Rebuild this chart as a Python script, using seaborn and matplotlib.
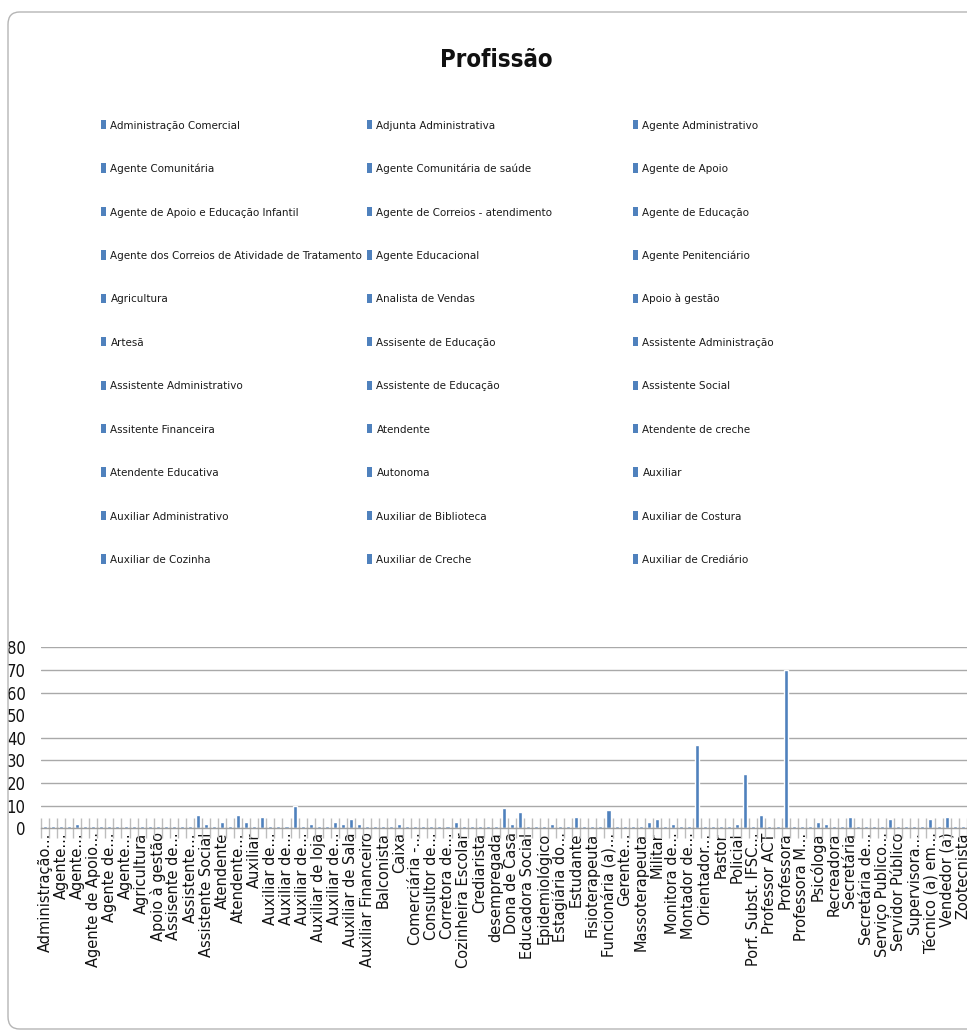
import os
import numpy as np
import matplotlib
matplotlib.use("Agg")
import matplotlib.pyplot as plt
from matplotlib import font_manager
from matplotlib.font_manager import FontProperties
from matplotlib.patches import Patch, FancyBboxPatch
import seaborn as sns

# ---- data -------------------------------------------------------------
categories = [
    "Administração Comercial", "Adjunta Administrativa", "Agente Administrativo",
    "Agente Comunitária", "Agente Comunitária de saúde", "Agente de Apoio",
    "Agente de Apoio e Educação Infantil", "Agente de Correios - atendimento",
    "Agente de Educação", "Agente dos Correios de Atividade de Tratamento",
    "Agente Educacional", "Agente Penitenciário", "Agricultura",
    "Analista de Vendas", "Apoio à gestão", "Artesã", "Assisente de Educação",
    "Assistente Administração", "Assistente Administrativo",
    "Assistente de Educação", "Assistente Social", "Assitente Financeira",
    "Atendente", "Atendente de creche", "Atendente Educativa", "Autonoma",
    "Auxiliar", "Auxiliar Administrativo", "Auxiliar de Biblioteca",
    "Auxiliar de Costura", "Auxiliar de Cozinha", "Auxiliar de Creche",
    "Auxiliar de Crediário", "Auxiliar de Ensino", "Auxiliar de loja",
    "Auxiliar de Manutenção", "Auxiliar de Produção",
    "Auxiliar de Recursos Humanos", "Auxiliar de Sala",
    "Auxiliar de Serviços Gerais", "Auxiliar Financeiro", "Auxiliar Pedagógica",
    "Balconista", "Bancária", "Caixa", "Comerciante", "Comerciária - vendas",
    "Confeiteira", "Consultor de Vendas", "Contadora", "Corretora de Imóveis",
    "Costureira", "Cozinheira Escolar", "Cozinheira Industrial", "Crediarista",
    "Cuidadora", "desempregada", "Do lar", "Dona de Casa", "Educadora",
    "Educadora Social", "Enfermeira", "Epidemiológico", "Estagiária",
    "Estagiária do Programa", "Esteticista", "Estudante", "Farmacêutica",
    "Fisioterapeuta", "Fonoaudióloga", "Funcionária (a) Pública", "Garçom",
    "Gerente Comercial", "Manicure", "Massoterapeuta", "Merendeira", "Militar",
    "Monitora", "Monitora de Creche", "Montador", "Montador de Móveis",
    "Não trabalha", "Orientador Educacional", "Orientadora", "Pastor",
    "Pedagoga", "Policial", "Policial Militar", "Porf. Subst. IFSC - Campus",
    "Professor", "Professor ACT", "Professor Efetivo", "Professora",
    "Professora ACT", "Professora Municipal", "Professora Substituta",
    "Psicóloga", "Psicopedagoga", "Recreadora", "Salgadeira", "Secretária",
    "Secretária Administrativa", "Secretária de Educação", "Servente",
    "Serviço Publico Municipal", "Serviços Gerais", "Servidor Público",
    "Servidora Pública", "Supervisora Escolar", "Técnica em Enfermagem",
    "Técnico (a) em Enfermagem", "Telefonista", "Vendedor (a)", "Vendedora",
    "Zootecnista",
]

counts = [
    1, 1, 1, 1, 2, 1, 1, 1, 1, 1, 1, 1, 1, 1, 1, 1, 1, 1, 1, 6,
    2, 1, 3, 1, 6, 3, 1, 5, 1, 1, 1, 10, 1, 2, 1, 1, 3, 2, 4, 2,
    1, 1, 1, 1, 2, 1, 1, 1, 1, 1, 1, 3, 1, 1, 1, 1, 1, 9, 2, 7,
    1, 1, 1, 2, 1, 1, 5, 1, 1, 1, 8, 1, 1, 1, 1, 3, 4, 1, 2, 1,
    1, 37, 1, 1, 1, 1, 2, 24, 1, 6, 1, 1, 70, 1, 1, 1, 3, 2, 1, 1,
    5, 1, 1, 1, 1, 4, 1, 1, 1, 1, 4, 1, 5, 1, 1,
]

# labels shown under every second bar (long names are cut short)
tick_labels = [
    "Administração...", "Agente...", "Agente...", "Agente de Apoio...",
    "Agente de...", "Agente...", "Agricultura", "Apoio à gestão",
    "Assisente de...", "Assistente...", "Assistente Social", "Atendente",
    "Atendente...", "Auxiliar", "Auxiliar de...", "Auxiliar de...",
    "Auxiliar de...", "Auxiliar de loja", "Auxiliar de...", "Auxiliar de Sala",
    "Auxiliar Financeiro", "Balconista", "Caixa", "Comerciária -...",
    "Consultor de...", "Corretora de...", "Cozinheira Escolar", "Crediarista",
    "desempregada", "Dona de Casa", "Educadora Social", "Epidemiológico",
    "Estagiária do...", "Estudante", "Fisioterapeuta", "Funcionária (a)...",
    "Gerente...", "Massoterapeuta", "Militar", "Monitora de...",
    "Montador de...", "Orientador...", "Pastor", "Policial",
    "Porf. Subst. IFSC...", "Professor ACT", "Professora", "Professora M...",
    "Psicóloga", "Recreadora", "Secretária", "Secretária de...",
    "Serviço Publico...", "Servidor Público", "Supervisora...",
    "Técnico (a) em...", "Vendedor (a)", "Zootecnista",
]

y_ticks = [0, 10, 20, 30, 40, 50, 60, 70, 80]
legend_count = 33  # legend lists the first categories only

assert len(categories) == len(counts) == len(set(categories))

# ---- fonts ----------------------------------------------------------------
sns.set_style("white")


def find_face(candidates):
    files = {os.path.basename(f.fname): f.fname for f in font_manager.fontManager.ttflist}
    for c in candidates:
        if c in files:
            return files[c]
    return None


narrow_file = find_face([
    "NotoSans-ExtraCondensed.ttf", "LiberationSansNarrow-Regular.ttf",
    "NotoSans-Condensed.ttf", "DejaVuSansCondensed.ttf",
    "NotoSans-SemiCondensed.ttf", "RobotoCondensed-Regular.ttf",
    "OpenSans_Condensed-Regular.ttf",
])
narrow_bold_file = find_face([
    "NotoSans-ExtraCondensedBold.ttf", "LiberationSansNarrow-Bold.ttf",
    "NotoSans-CondensedBold.ttf", "DejaVuSansCondensed-Bold.ttf",
    "NotoSans-SemiCondensedBold.ttf", "RobotoCondensed-Bold.ttf",
    "OpenSans_Condensed-Bold.ttf",
])


def face(size, bold=False):
    path = narrow_bold_file if bold else narrow_file
    if path:
        return FontProperties(fname=path, size=size)
    return FontProperties(family="Liberation Sans", size=size,
                          weight="bold" if bold else "normal")


plt.rcParams["font.family"] = ["Liberation Sans", "DejaVu Sans"]

BLUE = "#4F81BD"
GRID = "#A9A9A9"

W, H = 967, 1032
fig = plt.figure(figsize=(W / 100, H / 100), dpi=100)
renderer = fig.canvas.get_renderer()


def extent_px(s, props):
    t = fig.text(0, 0, s, fontproperties=props)
    bb = t.get_window_extent(renderer)
    t.remove()
    return bb.width, bb.height


def fit(s, target, bold=False):
    return 10.0 * target / extent_px(s, face(10.0, bold))[0]


legend_size = min(fit("Administração Comercial", 130),
                  fit("Agente dos Correios de Atividade de Tratamento", 252))
legend_px = legend_size * 100 / 72
row_h = extent_px("Administração Comercial", face(legend_size))[1]
row_pitch = 42.8
title_size = min(fit("Profissão", 112, bold=True), 26)

# chart-area frame
fig.patches.append(FancyBboxPatch(
    (8 / W, 1 - 1029 / H), (990 - 8) / W, (1029 - 12) / H,
    boxstyle="round,pad=0,rounding_size=0.012",
    transform=fig.transFigure, fill=False, edgecolor="#B5B5B5", lw=1.0))

# title
fig.text(496 / W, 1 - 60 / H, "Profissão", ha="center", va="center",
         fontproperties=face(title_size, bold=True), color="#111111")

# ---- bars ---------------------------------------------------------------
left, right, top, base = 41.0, 966.7, 647.3, 828.3
ax = fig.add_axes([left / W, 1 - base / H, (right - left) / W, (base - top) / H])

sns.barplot(x=categories, y=counts, order=categories, color=BLUE,
            saturation=1, width=0.5, errorbar=None, ax=ax)

ax.set_xlim(-0.5, len(categories) - 0.5)
ax.set_ylim(0, 80)
ax.set_yticks(y_ticks)
ax.set_yticklabels([str(v) for v in y_ticks], fontproperties=face(12),
                   color="#111111")
ax.set_xticks(range(0, len(categories), 2))
ax.set_xticklabels(tick_labels, rotation=90, fontsize=10.5,
                   family=["DejaVu Sans"], color="#111111")
ax.set_xticks(np.arange(-0.5, len(categories), 1), minor=True)
ax.tick_params(axis="x", which="both", bottom=True)
ax.tick_params(axis="x", which="major", length=0, pad=3)
ax.tick_params(axis="x", which="minor", direction="inout", length=14,
               width=1, color="#BDBDBD")
ax.tick_params(axis="y", left=False, length=0, pad=11)
ax.set_xlabel("")
ax.set_ylabel("")

ax.yaxis.grid(True, color=GRID, lw=1.0)
ax.set_axisbelow(True)
for t in ax.yaxis.get_major_ticks():
    if t.get_loc() == 50:
        t.gridline.set_visible(False)

for side in ("left", "right", "top"):
    ax.spines[side].set_visible(False)
ax.spines["bottom"].set_color("#A0A0A0")
ax.spines["bottom"].set_linewidth(1.0)

# ---- legend: three columns, filled row by row --------------------------
ncol = 3
col_x = [101, 367, 633]
first_row_center = 125
entries = categories[:legend_count]
for c in range(ncol):
    labels = entries[c::ncol]
    handles = [Patch(facecolor=BLUE, edgecolor="none") for _ in labels]
    leg = fig.legend(handles, labels, loc="upper left",
                     bbox_to_anchor=(col_x[c] / W,
                                     1 - (first_row_center - row_h / 2) / H),
                     frameon=False, borderpad=0, borderaxespad=0,
                     handlelength=4.5 / legend_px, handleheight=10 / legend_px,
                     handletextpad=5 / legend_px,
                     labelspacing=(row_pitch - row_h) / legend_px,
                     prop=face(legend_size))
    for txt in leg.get_texts():
        txt.set_color("#1A1A1A")

fig.savefig("out.png", dpi=100)
